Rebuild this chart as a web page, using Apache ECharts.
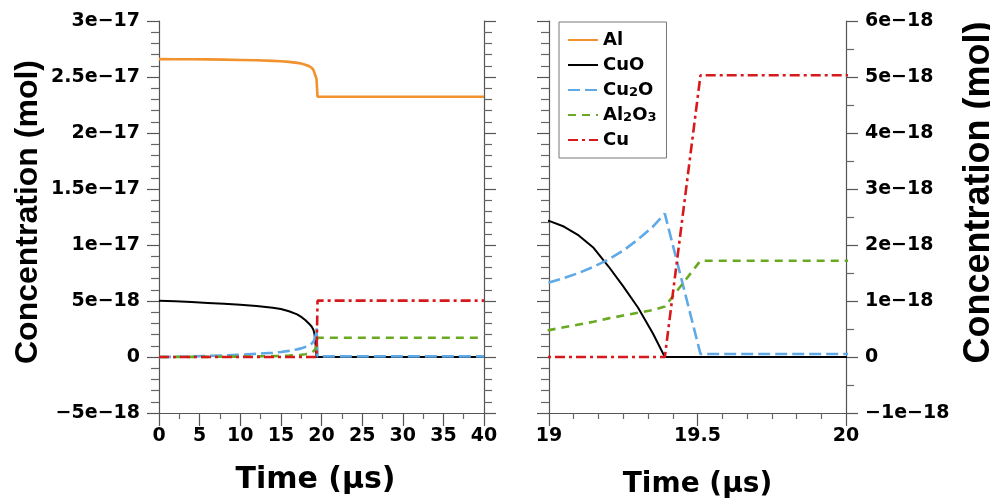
<!DOCTYPE html>
<html><head><meta charset="utf-8">
<script src="https://cdn.jsdelivr.net/npm/echarts@6/dist/echarts.min.js"></script>
<style>html,body{margin:0;padding:0;background:#fff}#c{width:990px;height:498px}</style>
</head><body><div id="c"></div>
<script>
// Time in microseconds
const time  = [0,2,4,6,8,10,12,14,15,16,17,17.5,18,18.5,18.8,19,19.05,19.1,19.15,19.2,19.25,19.3,19.35,19.39,19.51,20,30,40];
// Concentrations, in units of 1e-18 mol
const al    = [26.6,26.59,26.58,26.57,26.55,26.52,26.49,26.44,26.4,26.35,26.26,26.2,26.1,25.96,25.82,25.64,25.54,25.44,25.34,25.22,25.12,25.02,24.92,24.8,23.24,23.24,23.24,23.24];
const cuo   = [5.03,4.97,4.9,4.83,4.75,4.66,4.56,4.4,4.28,4.08,3.8,3.58,3.3,2.95,2.7,2.43,2.33,2.17,1.95,1.62,1.26,0.88,0.42,0,0,0,0,0];
const cu2o  = [0,0.02,0.05,0.09,0.14,0.2,0.28,0.38,0.45,0.55,0.68,0.77,0.9,1.07,1.2,1.33,1.41,1.5,1.61,1.74,1.9,2.1,2.33,2.56,0.054,0.054,0.054,0.054];
const al2o3 = [0,0.005,0.01,0.015,0.025,0.04,0.055,0.08,0.1,0.125,0.17,0.2,0.25,0.32,0.39,0.48,0.53,0.58,0.63,0.69,0.74,0.79,0.84,0.9,1.72,1.72,1.72,1.72];
const cu    = [0,0,0,0,0,0,0,0,0,0,0,0,0,0,0,0,0,0,0,0,0,0,0,0,5.03,5.03,5.03,5.03];

const seriesNames = ['Al','CuO','Cu2O','Al2O3','Cu'];
const legendLabels = ['{b|Al}','{b|CuO}','{b|Cu}{s|2}{b|O}','{b|Al}{s|2}{b|O}{s|3}','{b|Cu}'];

const leftTickValues  = [-5,0,5,10,15,20,25,30];
const leftTickLabels  = ['−5e−18','0','5e−18','1e−17','1.5e−17','2e−17','2.5e−17','3e−17'];
const rightTickValues = [-1,0,1,2,3,4,5,6];
const rightTickLabels = ['−1e−18','0','1e−18','2e−18','3e−18','4e−18','5e−18','6e−18'];

const styles = [
  {color:'#F0922E', width:2.6, type:'solid'},
  {color:'#000000', width:2.0, type:'solid'},
  {color:'#5EA9E6', width:2.6, type:[12,5]},
  {color:'#6AAA22', width:2.6, type:[8,6]},
  {color:'#D8191C', width:2.6, type:[10,4,3,4]}
];
const dataSets = [al, cuo, cu2o, al2o3, cu];

function lookup(vals, labels) {
  return function (v) {
    const i = vals.findIndex(x => Math.abs(x - v) < 1e-6);
    return i < 0 ? '' : labels[i];
  };
}

const AXC = '#555';
const labelFont = {fontFamily:'DejaVu Sans', fontWeight:'bold', fontSize:19, color:'#000'};

function xAxis(grid, min, max, interval, minorSplit, nameGap, nameSize, namePad) {
  return {
    type:'value', gridIndex:grid, min:min, max:max, interval:interval, position:'bottom',
    axisLine:{show:true, onZero:false, lineStyle:{color:AXC, width:1.2}},
    axisTick:{show:true, length:13, lineStyle:{color:AXC, width:1.2}},
    minorTick:{show:true, splitNumber:minorSplit, length:6, lineStyle:{color:'#666', width:1.2}},
    splitLine:{show:false}, minorSplitLine:{show:false},
    axisLabel:Object.assign({margin:14}, labelFont),
    name:'Time (µs)', nameLocation:'middle', nameGap:nameGap,
    nameTextStyle:{fontFamily:'DejaVu Sans', fontWeight:'bold', fontSize:nameSize, color:'#000', padding:namePad}
  };
}

function yAxis(grid, pos, min, max, interval, minorSplit, showLabel, fmt, name) {
  const o = {
    type:'value', gridIndex:grid, position:pos, min:min, max:max, interval:interval,
    axisLine:{show:true, onZero:false, lineStyle:{color:AXC, width:1.2}},
    axisTick:{show:true, length:12, lineStyle:{color:AXC, width:1.2}},
    minorTick:{show:true, splitNumber:minorSplit, length:8, lineStyle:{color:'#666', width:1.2}},
    splitLine:{show:false}, minorSplitLine:{show:false},
    axisLabel:Object.assign({show:showLabel, margin:19, formatter:fmt}, labelFont)
  };
  if (name) Object.assign(o, name);
  return o;
}

const series = [];
[0,1].forEach(function (g) {
  dataSets.forEach(function (vals, k) {
    series.push({
      type:'line', name:seriesNames[k], xAxisIndex:g, yAxisIndex: g === 0 ? 0 : 2,
      data: time.map((t, i) => [t, vals[i]]),
      symbol:'none', showSymbol:false, clip:true, animation:false,
      lineStyle:{color:styles[k].color, width:styles[k].width, type:styles[k].type},
      itemStyle:{color:styles[k].color},
      emphasis:{disabled:true}
    });
  });
});

const chart = echarts.init(document.getElementById('c'), null, {renderer:'canvas'});
chart.setOption({
  animation:false,
  backgroundColor:'#fff',
  grid:[
    {left:159, top:21, width:325, height:392, outerBoundsMode:'none', containLabel:false},
    {left:549, top:21, width:297, height:392, outerBoundsMode:'none', containLabel:false}
  ],
  xAxis:[
    xAxis(0, 0, 40, 5, 2, 52, 30, [0,12,0,0]),
    xAxis(1, 19, 20, 0.5, 6, 58, 28, [0,0,0,0])
  ],
  yAxis:[
    yAxis(0, 'left', -5, 30, 5, 5, true, lookup(leftTickValues, leftTickLabels), {
      name:'Concentration (mol)', nameLocation:'middle', nameGap:115, nameRotate:90,
      nameTextStyle:{fontFamily:'Liberation Sans', fontWeight:'bold', fontSize:32, color:'#000', padding:[0,0,0,10]}
    }),
    yAxis(0, 'right', -5, 30, 5, 5, false, null, null),
    yAxis(1, 'right', -1, 6, 1, 2, true, lookup(rightTickValues, rightTickLabels), {
      name:'Concentration (mol)', nameLocation:'middle', nameGap:115, nameRotate:90,
      nameTextStyle:{fontFamily:'Liberation Sans', fontWeight:'bold', fontSize:36, color:'#000', padding:[0,0,0,49]}
    }),
    yAxis(1, 'left', -1, 6, 1, 5, false, null, null)
  ],
  legend:{
    data:seriesNames, orient:'vertical', left:559, top:22,
    padding:[9,10,9,8], itemGap:7, itemWidth:30, itemHeight:18,
    borderColor:'#777', borderWidth:1, backgroundColor:'#fff', selectedMode:false,
    itemStyle:{opacity:0},
    formatter:function (n) { return legendLabels[seriesNames.indexOf(n)]; },
    textStyle:{
      rich:{
        b:{fontFamily:'DejaVu Sans', fontWeight:'bold', fontSize:18, color:'#000', lineHeight:18},
        s:{fontFamily:'DejaVu Sans', fontWeight:'bold', fontSize:13, color:'#000', lineHeight:14, verticalAlign:'bottom'}
      }
    }
  },
  series:series
});
</script>
</body></html>
